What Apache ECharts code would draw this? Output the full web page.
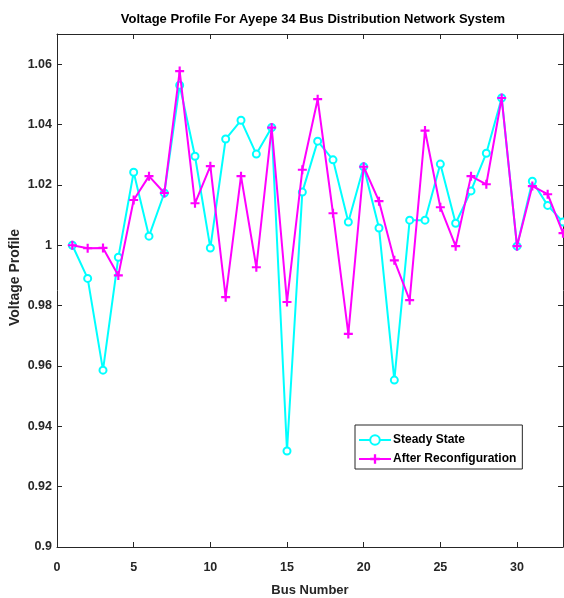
<!DOCTYPE html>
<html>
<head>
<meta charset="utf-8">
<script src="https://cdn.jsdelivr.net/npm/echarts@6/dist/echarts.min.js"></script>
<style>html,body{margin:0;padding:0;background:#fff}#c{width:564px;height:598px}</style>
</head>
<body>
<div id="c"></div>
<script>
const busNumbers = [1,2,3,4,5,6,7,8,9,10,11,12,13,14,15,16,17,18,19,20,21,22,23,24,25,26,27,28,29,30,31,32,33];
const steadyState = [1.000,0.989,0.9586,0.996,1.0242,1.003,1.0173,1.053,1.0295,0.9991,1.0352,1.0414,1.0302,1.039,0.9318,1.0176,1.0345,1.0283,1.0077,1.026,1.0057,0.9553,1.0083,1.0083,1.0269,1.0073,1.018,1.0305,1.0488,0.9997,1.0212,1.0132,1.0077];
const afterReconfig = [1.000,0.999,0.9991,0.990,1.015,1.0229,1.0173,1.0577,1.0139,1.0262,0.9828,1.0229,0.9927,1.039,0.9812,1.025,1.0484,1.0106,0.9706,1.026,1.0146,0.995,0.9818,1.038,1.0126,0.9997,1.0229,1.0202,1.0488,0.9997,1.0196,1.0169,1.004];
const seriesNames = ['Steady State','After Reconfiguration'];
const xTicks = {min:0, max:33, interval:5};
const yTicks = {min:0.9, max:1.07, interval:0.02};

const FONT = '"Liberation Sans",Arial,sans-serif';
const plusPath = 'path://M3.8,0H6.2V3.8H10V6.2H6.2V10H3.8V6.2H0V3.8H3.8Z';
const chart = echarts.init(document.getElementById('c'), null, {renderer:'canvas'});
const axisCommon = {
  axisLine:{show:true, onZero:false, lineStyle:{color:'#262626', width:1}},
  axisTick:{show:true, inside:true, length:5, lineStyle:{color:'#262626'}},
  splitLine:{show:false}
};
chart.setOption({
  animation:false,
  backgroundColor:'#fff',
  title:{
    text:'Voltage Profile For Ayepe 34 Bus Distribution Network System',
    left:308, top:8, textAlign:'center',
    textStyle:{fontFamily:FONT, fontWeight:'bold', fontSize:13, color:'#000'}
  },
  legend:{
    left:355, top:425, orient:'vertical',
    padding:[9,6,4,3], itemGap:7, itemWidth:32, itemHeight:12,
    borderColor:'#262626', borderWidth:1, backgroundColor:'#fff',
    textStyle:{fontFamily:FONT, fontWeight:'bold', fontSize:12, color:'#000', padding:[0,0,0,-3]},
    data:seriesNames
  },
  grid:{left:57, right:1, top:34, bottom:51, containLabel:false, outerBoundsMode:'none'},
  xAxis:[
    Object.assign({
      type:'value', min:xTicks.min, max:xTicks.max, interval:xTicks.interval, position:'bottom',
      name:'Bus Number', nameLocation:'middle', nameGap:37, nameMoveOverlap:false,
      nameTextStyle:{fontFamily:FONT, fontWeight:'bold', fontSize:13, color:'#262626'},
      axisLabel:{showMaxLabel:false, fontFamily:FONT, fontWeight:'bold', fontSize:12.5, color:'#262626', margin:14}
    }, axisCommon),
    Object.assign({
      type:'value', min:xTicks.min, max:xTicks.max, interval:xTicks.interval, position:'top',
      axisLabel:{show:false}
    }, axisCommon)
  ],
  yAxis:[
    Object.assign({
      type:'value', min:yTicks.min, max:yTicks.max, interval:yTicks.interval, position:'left',
      name:'Voltage Profile', nameLocation:'middle', nameGap:35, nameRotate:90, nameMoveOverlap:false,
      nameTextStyle:{fontFamily:FONT, fontWeight:'bold', fontSize:14, color:'#262626', padding:[0,0,0,26]},
      axisLabel:{showMaxLabel:false, fontFamily:FONT, fontWeight:'bold', fontSize:12.5, color:'#262626', margin:5,
        formatter:v => String(+v.toFixed(2))}
    }, axisCommon),
    Object.assign({
      type:'value', min:yTicks.min, max:yTicks.max, interval:yTicks.interval, position:'right',
      axisLabel:{show:false}
    }, axisCommon)
  ],
  series:[
    {
      name:seriesNames[0], type:'line', xAxisIndex:0, yAxisIndex:0,
      data:busNumbers.map((b,i)=>[b, steadyState[i]]),
      color:'#00FFFF', lineStyle:{width:2, color:'#00FFFF'},
      symbol:'emptyCircle', symbolSize:7,
      itemStyle:{color:'#00FFFF', borderColor:'#00FFFF', borderWidth:2},
      clip:true, z:2
    },
    {
      name:seriesNames[1], type:'line', xAxisIndex:0, yAxisIndex:0,
      data:busNumbers.map((b,i)=>[b, afterReconfig[i]]),
      color:'#FF00FF', lineStyle:{width:2, color:'#FF00FF'},
      symbol:plusPath, symbolSize:9,
      itemStyle:{color:'#FF00FF', borderWidth:0},
      clip:true, z:3
    }
  ]
});
</script>
</body>
</html>
